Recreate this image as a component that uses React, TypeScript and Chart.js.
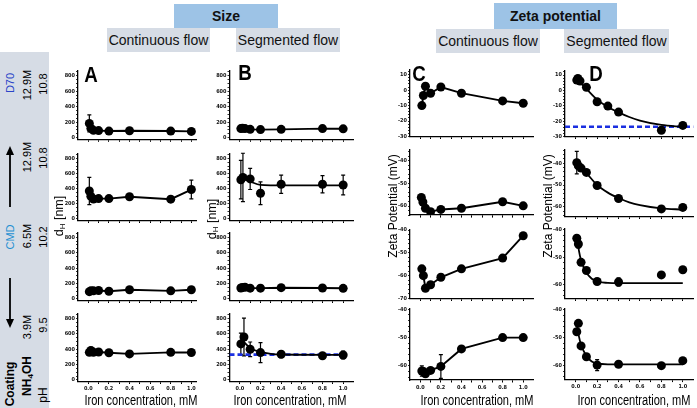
import React, { useEffect, useRef } from 'react';
import { Chart, registerables } from 'chart.js';
Chart.register(...registerables);

// ---------------- data ----------------
const xStd = [0.01, 0.025, 0.05, 0.1, 0.2, 0.4, 0.8, 1.0];
const xEarly = [0.015, 0.03, 0.05, 0.1, 0.2, 0.4, 0.8, 1.0];
const xIronTicks = [0, 0.1, 0.2, 0.3, 0.4, 0.5, 0.6, 0.7, 0.8, 0.9, 1.0];
const xIronLabels = [0, 0.2, 0.4, 0.6, 0.8, 1.0];

// Size (nm), continuous flow (A)
const sizeA_D70 = [185, 120, 95, 92, 86, 90, 86, 82];
const errA_D70 = [110, 0, 0, 0, 0, 0, 0, 0];
const sizeA_CMD129 = [370, 300, 265, 270, 270, 295, 262, 390];
const errA_CMD129 = [180, 0, 0, 0, 0, 0, 0, 125];
const sizeA_CMD65 = [95, 105, 105, 110, 100, 120, 105, 120];
const sizeA_NH = [360, 385, 360, 365, 355, 340, 360, 358];
const errA_NH = [0, 40, 0, 0, 0, 0, 0, 0];

// Size (nm), segmented flow (B)
const sizeB_D70 = [118, 122, 118, 108, 105, 108, 118, 115];
const xB_CMD129 = [0.01, 0.03, 0.1, 0.2, 0.4, 0.8, 1.0];
const sizeB_CMD129 = [520, 550, 530, 340, 460, 460, 450];
const errB_CMD129 = [255, 320, 140, 150, 120, 115, 130];
const fitXB_CMD129 = [0.01, 0.05, 0.1, 0.13, 0.2, 0.3, 1.0];
const fitYB_CMD129 = [565, 545, 500, 480, 452, 446, 445];
const sizeB_CMD65 = [142, 150, 152, 140, 140, 146, 142, 138];
const xB_NH = [0.01, 0.04, 0.1, 0.2, 0.4, 0.8, 1.0];
const sizeB_NH = [470, 560, 400, 357, 335, 315, 325];
const errB_NH = [140, 245, 95, 130, 45, 35, 50];
const fitXB_NH = [0.02, 0.05, 0.1, 0.2, 0.3, 0.4, 1.0];
const fitYB_NH = [530, 480, 415, 365, 340, 332, 328];
const refB_NH = [330];

// Zeta potential (mV), continuous flow (C)
const zetaC_D70 = [-10, -3.5, 2.5, -2, 2, -2, -7, -8.5];
const zetaC_CMD129 = [-56.2, -58.2, -61, -62.5, -61.5, -61, -58.1, -59.9];
const zetaC_CMD65 = [-57, -60, -65.5, -64, -60.7, -57, -52.3, -42.5];
const zetaC_NH = [-61.8, -62, -62.8, -61.6, -60.2, -54, -50, -50];
const errC_NH = [1.8, 0, 0, 0, 4.2, 0, 0, 0];

// Zeta potential (mV), segmented flow (D)
const xD_D70 = [0.01, 0.02, 0.04, 0.1, 0.2, 0.3, 0.4, 0.8, 1.0];
const zetaD_D70 = [6.7, 7.8, 6.1, 2, -7.4, -10.2, -14.1, -25.9, -22.8];
const fitXD_D70 = [0.01, 0.05, 0.1, 0.2, 0.3, 0.4, 0.5, 0.6, 0.8, 1.0];
const fitYD_D70 = [8, 4.5, 1, -6, -10.8, -14.3, -17.3, -19.6, -22.5, -23.7];
const refD_D70 = [-23.7];
const xD = [0.01, 0.025, 0.05, 0.1, 0.2, 0.4, 0.8, 1.0];
const zetaD_CMD129 = [-39.7, -41.2, -42.2, -44.2, -50.2, -56.2, -61, -60.3];
const errD_CMD129 = [5.2, 0, 0, 0, 0, 0, 0, 0];
const fitXD_CMD129 = [0.01, 0.05, 0.1, 0.2, 0.3, 0.4, 0.5, 0.6, 0.8, 1.0];
const fitYD_CMD129 = [-39.5, -42, -44.5, -50, -53.5, -56, -58, -59.3, -60.8, -61.3];
const zetaD_CMD65 = [-43, -45.1, -51.8, -54.8, -58.8, -59, -56.4, -54.5];
const errD_CMD65 = [0, 1.5, 0, 0, 0, 1.5, 0, 0];
const fitXD_CMD65 = [0.01, 0.03, 0.05, 0.1, 0.15, 0.2, 0.3, 0.4, 1.0];
const fitYD_CMD65 = [-42, -47.5, -51, -55.5, -57.8, -58.8, -59.3, -59.4, -59.4];
const zetaD_NH = [-47.8, -44.8, -52.9, -56.8, -59.8, -59.5, -60, -58.2];
const errD_NH = [0, 0, 0, 0, 2, 0, 0, 0];
const fitXD_NH = [0.01, 0.03, 0.05, 0.1, 0.15, 0.2, 0.3, 0.4, 1.0];
const fitYD_NH = [-45, -49.5, -52.5, -56.5, -58.5, -59.2, -59.5, -59.5, -59.5];

// Axis tick labels
const sizeTicks = [0, 200, 400, 600, 800];
const zetaTicksTop = [10, 0, -10, -20, -30];
const zetaTicks3 = [-40, -50, -60];
const zetaTicks4 = [-40, -50, -60, -70];

// ---------------- layout / style ----------------
const SANS = "'Liberation Sans', Arial, Helvetica, sans-serif";
const TICKFONT = "'Liberation Sans Narrow', 'DejaVu Sans Condensed', 'Liberation Sans', sans-serif";

const cols = [
  { left: 78, width: 119.6, xMin: -0.1, xMax: 1.05 },
  { left: 229.5, width: 124.8, xMin: -0.1, xMax: 1.1 },
  { left: 410, width: 125, xMin: -0.1, xMax: 1.1 },
  { left: 565, width: 130, xMin: -0.1, xMax: 1.1 },
];

type PanelDef = {
  col: number;
  top: number;
  bottom: number;
  yMin: number;
  yMax: number;
  yMajor: number[];
  yMinor: number;
  bottomRow: boolean;
  x: number[];
  y: number[];
  err?: number[];
  connect: boolean;
  fitX?: number[];
  fitY?: number[];
  ref?: number[];
  refEnd?: number;
};

const sizeRange = { yMin: -20, yMax: 860, yMajor: sizeTicks, yMinor: 50 };
const rowsSize = [
  { top: 71, bottom: 139.3 },
  { top: 154, bottom: 220.7 },
  { top: 232.6, bottom: 300.9 },
  { top: 314, bottom: 381.5 },
];

const panels: PanelDef[] = [
  // A
  { col: 0, ...rowsSize[0], ...sizeRange, bottomRow: false, x: xStd, y: sizeA_D70, err: errA_D70, connect: true },
  { col: 0, ...rowsSize[1], ...sizeRange, bottomRow: false, x: xStd, y: sizeA_CMD129, err: errA_CMD129, connect: true },
  { col: 0, ...rowsSize[2], ...sizeRange, bottomRow: false, x: xStd, y: sizeA_CMD65, connect: true },
  { col: 0, ...rowsSize[3], ...sizeRange, bottomRow: true, x: xStd, y: sizeA_NH, err: errA_NH, connect: true },
  // B
  { col: 1, ...rowsSize[0], ...sizeRange, bottomRow: false, x: xStd, y: sizeB_D70, connect: true },
  { col: 1, ...rowsSize[1], ...sizeRange, bottomRow: false, x: xB_CMD129, y: sizeB_CMD129, err: errB_CMD129, connect: false, fitX: fitXB_CMD129, fitY: fitYB_CMD129 },
  { col: 1, ...rowsSize[2], ...sizeRange, bottomRow: false, x: xStd, y: sizeB_CMD65, connect: true },
  { col: 1, ...rowsSize[3], ...sizeRange, bottomRow: true, x: xB_NH, y: sizeB_NH, err: errB_NH, connect: false, fitX: fitXB_NH, fitY: fitYB_NH, ref: refB_NH, refEnd: 1.05 },
  // C
  { col: 2, top: 70, bottom: 137, yMin: -30, yMax: 13, yMajor: zetaTicksTop, yMinor: 2, bottomRow: false, x: xEarly, y: zetaC_D70, connect: true },
  { col: 2, top: 149.4, bottom: 215.1, yMin: -64, yMax: -35, yMajor: zetaTicks3, yMinor: 2, bottomRow: false, x: xStd, y: zetaC_CMD129, connect: true },
  { col: 2, top: 230, bottom: 299, yMin: -70, yMax: -40, yMajor: zetaTicks4, yMinor: 2, bottomRow: false, x: xEarly, y: zetaC_CMD65, connect: true },
  { col: 2, top: 308.2, bottom: 380, yMin: -65, yMax: -39.6, yMajor: zetaTicks3, yMinor: 2, bottomRow: true, x: xEarly, y: zetaC_NH, err: errC_NH, connect: true },
  // D
  { col: 3, top: 70.4, bottom: 136.7, yMin: -30, yMax: 13, yMajor: zetaTicksTop, yMinor: 2, bottomRow: false, x: xD_D70, y: zetaD_D70, connect: false, fitX: fitXD_D70, fitY: fitYD_D70, ref: refD_D70, refEnd: 1.1 },
  { col: 3, top: 149.2, bottom: 216.5, yMin: -64.5, yMax: -33.5, yMajor: zetaTicks3, yMinor: 2, bottomRow: false, x: xD, y: zetaD_CMD129, err: errD_CMD129, connect: false, fitX: fitXD_CMD129, fitY: fitYD_CMD129 },
  { col: 3, top: 228.6, bottom: 298.75, yMin: -65, yMax: -39.5, yMajor: zetaTicks3, yMinor: 2, bottomRow: false, x: xD, y: zetaD_CMD65, err: errD_CMD65, connect: false, fitX: fitXD_CMD65, fitY: fitYD_CMD65 },
  { col: 3, top: 308.6, bottom: 379.6, yMin: -65, yMax: -39.5, yMajor: zetaTicks3, yMinor: 2, bottomRow: true, x: xD, y: zetaD_NH, err: errD_NH, connect: false, fitX: fitXD_NH, fitY: fitYD_NH },
];

function isIn(arr: number[], v: number) {
  return arr.some((m) => Math.abs(m - v) < 1e-6);
}

function minorTicks(min: number, max: number, step: number) {
  const out: number[] = [];
  const start = Math.ceil(min / step - 1e-9);
  const end = Math.floor(max / step + 1e-9);
  for (let k = start; k <= end; k++) out.push(Math.round(k * step * 1000) / 1000);
  return out;
}

function PanelChart({ p }: { p: PanelDef }) {
  const ref = useRef<HTMLCanvasElement>(null);
  const c = cols[p.col];
  const yW = 16;
  const padR = 3;
  const xH = p.bottomRow ? 13 : 4;
  const cLeft = Math.floor(c.left) - yW;
  const cTop = Math.floor(p.top) - 5;
  const cW = Math.ceil(c.left + c.width) + padR - cLeft;
  const cH = Math.ceil(p.bottom) + xH - cTop;
  const axisW = c.left - cLeft;
  const padTop = p.top - cTop;
  const padRight = cW - (c.left + c.width - cLeft);
  const axisH = cH - (p.bottom - cTop);

  useEffect(() => {
    const canvas = ref.current!;
    const datasets: any[] = [
      {
        data: p.x.map((xv, i) => ({ x: xv, y: p.y[i] })),
        showLine: p.connect,
        borderColor: '#000',
        borderWidth: 1.9,
        pointRadius: 4.5,
        pointHoverRadius: 4.5,
        pointBackgroundColor: '#000',
        pointBorderColor: '#000',
        pointBorderWidth: 0,
        tension: 0,
        order: 0,
      },
    ];
    if (p.fitX && p.fitY) {
      datasets.push({
        data: p.fitX.map((xv, i) => ({ x: xv, y: p.fitY![i] })),
        showLine: true,
        borderColor: '#000',
        borderWidth: 1.8,
        pointRadius: 0,
        cubicInterpolationMode: 'monotone',
        order: 1,
      });
    }
    if (p.ref) {
      datasets.push({
        data: [
          { x: c.xMin, y: p.ref[0] },
          { x: p.refEnd ?? c.xMax, y: p.ref[0] },
        ],
        showLine: true,
        borderColor: '#1a2fe0',
        borderWidth: 2.6,
        borderDash: [5, 3],
        pointRadius: 0,
        order: 2,
      });
    }
    const errPlugin = {
      id: 'errbars',
      beforeDatasetsDraw(chart: any) {
        if (!p.err) return;
        const { ctx } = chart;
        const xs = chart.scales.x;
        const ys = chart.scales.y;
        ctx.save();
        ctx.strokeStyle = '#000';
        ctx.lineWidth = 1.2;
        p.err.forEach((e, i) => {
          if (!e) return;
          const px = xs.getPixelForValue(p.x[i]);
          const y1 = ys.getPixelForValue(p.y[i] - e);
          const y2 = ys.getPixelForValue(p.y[i] + e);
          ctx.beginPath();
          ctx.moveTo(px, y1);
          ctx.lineTo(px, y2);
          ctx.moveTo(px - 2, y1);
          ctx.lineTo(px + 2, y1);
          ctx.moveTo(px - 2, y2);
          ctx.lineTo(px + 2, y2);
          ctx.stroke();
        });
        ctx.restore();
      },
    };
    const xTickVals = xIronTicks;
    const yTickVals = minorTicks(p.yMin, p.yMax, p.yMinor);
    const chart = new Chart(canvas, {
      type: 'line',
      data: { datasets },
      options: {
        responsive: false,
        maintainAspectRatio: false,
        animation: false,
        events: [],
        layout: { padding: { top: padTop, right: padRight, left: 0, bottom: 0 } },
        plugins: { legend: { display: false }, tooltip: { enabled: false } },
        scales: {
          x: {
            type: 'linear',
            min: c.xMin,
            max: c.xMax,
            afterFit: (s: any) => {
              s.height = axisH;
            },
            afterBuildTicks: (s: any) => {
              s.ticks = xTickVals.map((v) => ({ value: v }));
            },
            ticks: {
              autoSkip: false,
              maxRotation: 0,
              padding: 1.5,
              color: '#111',
              font: { size: 5.5, family: TICKFONT, weight: 'bold' },
              callback: (v: any) => (p.bottomRow && isIn(xIronLabels, Number(v)) ? Number(v).toFixed(1) : ''),
            },
            grid: { display: true, drawOnChartArea: false, drawTicks: true, tickLength: 2.5, color: '#000', lineWidth: 1 },
            border: { display: true, color: '#000', width: 1.3 },
          },
          y: {
            type: 'linear',
            min: p.yMin,
            max: p.yMax,
            afterFit: (s: any) => {
              s.width = axisW;
            },
            afterBuildTicks: (s: any) => {
              s.ticks = yTickVals.map((v) => ({ value: v }));
            },
            ticks: {
              autoSkip: false,
              padding: 1,
              color: '#111',
              font: { size: 5.5, family: TICKFONT, weight: 'bold' },
              callback: (v: any) => (isIn(p.yMajor, Number(v)) ? String(Number(v)) : ''),
            },
            grid: { display: true, drawOnChartArea: false, drawTicks: true, tickLength: 2, color: '#000', lineWidth: 0.8 },
            border: { display: true, color: '#000', width: 1.3 },
          },
        },
      },
      plugins: [errPlugin],
    } as any);
    return () => chart.destroy();
  }, []);

  return (
    <canvas
      ref={ref}
      width={cW}
      height={cH}
      style={{ position: 'absolute', left: cLeft, top: cTop, width: cW, height: cH }}
    />
  );
}

function Box({ x, y, w, h, bg, bold, children }: any) {
  return (
    <div
      style={{
        position: 'absolute',
        left: x,
        top: y,
        width: w,
        height: h,
        background: bg,
        display: 'flex',
        alignItems: 'center',
        justifyContent: 'center',
        fontFamily: SANS,
        fontSize: 14,
        fontWeight: bold ? 'bold' : 'normal',
        color: '#111',
        whiteSpace: 'nowrap',
      }}
    >
      {children}
    </div>
  );
}

// Text centred on (x, y) inside an even-sized box so that a 90° rotation stays on the pixel grid.
function T({ x, y, rot, sx, style, w = 160, h = 16, children }: any) {
  let tf = '';
  if (rot) tf += ' rotate(-90deg)';
  if (sx) tf += ` scaleX(${sx})`;
  return (
    <div
      style={{
        position: 'absolute',
        left: Math.round(x) - w / 2,
        top: Math.round(y) - h / 2,
        width: w,
        height: h,
        lineHeight: `${h}px`,
        textAlign: 'center',
        transform: tf || undefined,
        whiteSpace: 'nowrap',
        fontFamily: SANS,
        color: '#000',
        ...style,
      }}
    >
      {children}
    </div>
  );
}

const BLUE_BOX = '#9dc3e6';
const GRAY_BOX = '#d6dce5';
const subStyle = { fontSize: 8, verticalAlign: 'baseline', position: 'relative' as const, top: 2 };

export default function App() {
  return (
    <div
      style={{
        position: 'fixed',
        left: 0,
        top: 0,
        width: 697,
        height: 408,
        overflow: 'hidden',
        background: '#fff',
      }}
    >
      {/* headers */}
      <Box x={174} y={4} w={104} h={24} bg={BLUE_BOX} bold>
        Size
      </Box>
      <Box x={107} y={28} w={103} h={24} bg={GRAY_BOX}>
        Continuous flow
      </Box>
      <Box x={236} y={28} w={104} h={24} bg={GRAY_BOX}>
        Segmented flow
      </Box>
      <Box x={494} y={3} w={123} h={26} bg={BLUE_BOX} bold>
        Zeta potential
      </Box>
      <Box x={436} y={29} w={104} h={24} bg={GRAY_BOX}>
        Continuous flow
      </Box>
      <Box x={564} y={29} w={105} h={24} bg={GRAY_BOX}>
        Segmented flow
      </Box>

      {/* left strip */}
      <div style={{ position: 'absolute', left: 0, top: 52, width: 49, height: 356, background: GRAY_BOX }} />
      <svg style={{ position: 'absolute', left: 0, top: 0 }} width={50} height={408}>
        <line x1={10} y1={278} x2={10} y2={322} stroke="#000" strokeWidth={1.8} />
        <polygon points="6,319 14,319 10,328" fill="#000" />
        <line x1={10} y1={207} x2={10} y2={152} stroke="#000" strokeWidth={1.8} />
        <polygon points="6,155 14,155 10,146" fill="#000" />
      </svg>
      <T x={10} y={384} rot style={{ fontSize: 12, fontWeight: 'bold' }}>Coating</T>
      <T x={10} y={237} rot style={{ fontSize: 11, color: '#1e8fd2' }}>CMD</T>
      <T x={10} y={83} rot style={{ fontSize: 11, color: '#2a45c8' }}>D70</T>
      <T x={27} y={376} rot style={{ fontSize: 12, fontWeight: 'bold' }}>
        NH<sub style={subStyle}>4</sub>OH
      </T>
      <T x={27} y={327} rot style={{ fontSize: 11 }}>3.9M</T>
      <T x={27} y={236} rot style={{ fontSize: 11 }}>6.5M</T>
      <T x={27} y={157} rot style={{ fontSize: 11 }}>12.9M</T>
      <T x={27} y={85} rot style={{ fontSize: 11 }}>12.9M</T>
      <T x={43} y={395} rot style={{ fontSize: 12 }}>pH</T>
      <T x={43} y={325} rot style={{ fontSize: 11 }}>9.5</T>
      <T x={43} y={237} rot style={{ fontSize: 11 }}>10.2</T>
      <T x={43} y={158} rot style={{ fontSize: 11 }}>10.8</T>
      <T x={43} y={84} rot style={{ fontSize: 11 }}>10.8</T>

      {/* charts */}
      {panels.map((p, i) => (
        <PanelChart key={i} p={p} />
      ))}

      {/* panel letters */}
      <T x={91} y={75} sx={0.85} h={24} w={30} style={{ fontSize: 22, fontWeight: 'bold' }}>A</T>
      <T x={245} y={73} sx={0.85} h={24} w={30} style={{ fontSize: 22, fontWeight: 'bold' }}>B</T>
      <T x={419} y={74} sx={0.85} h={24} w={30} style={{ fontSize: 22, fontWeight: 'bold' }}>C</T>
      <T x={596} y={74} sx={0.85} h={24} w={30} style={{ fontSize: 22, fontWeight: 'bold' }}>D</T>

      {/* y titles */}
      <T x={59} y={216} rot style={{ fontSize: 12.5 }}>
        d<sub style={subStyle}>H</sub> [nm]
      </T>
      <T x={212} y={219} rot style={{ fontSize: 12.5 }}>
        d<sub style={subStyle}>H</sub> [nm]
      </T>
      <T x={393} y={206} rot style={{ fontSize: 12 }}>Zeta Potential (mV)</T>
      <T x={548} y={206} rot style={{ fontSize: 12 }}>Zeta Potential (mV)</T>

      {/* x titles */}
      <T x={141} y={400} sx={0.79} style={{ fontSize: 14 }}>Iron concentration, mM</T>
      <T x={290} y={400} sx={0.79} style={{ fontSize: 14 }}>Iron concentration, mM</T>
      <T x={477} y={400} sx={0.79} style={{ fontSize: 14 }}>Iron concentration, mM</T>
      <T x={634} y={400} sx={0.79} style={{ fontSize: 14 }}>Iron concentration, mM</T>
    </div>
  );
}
